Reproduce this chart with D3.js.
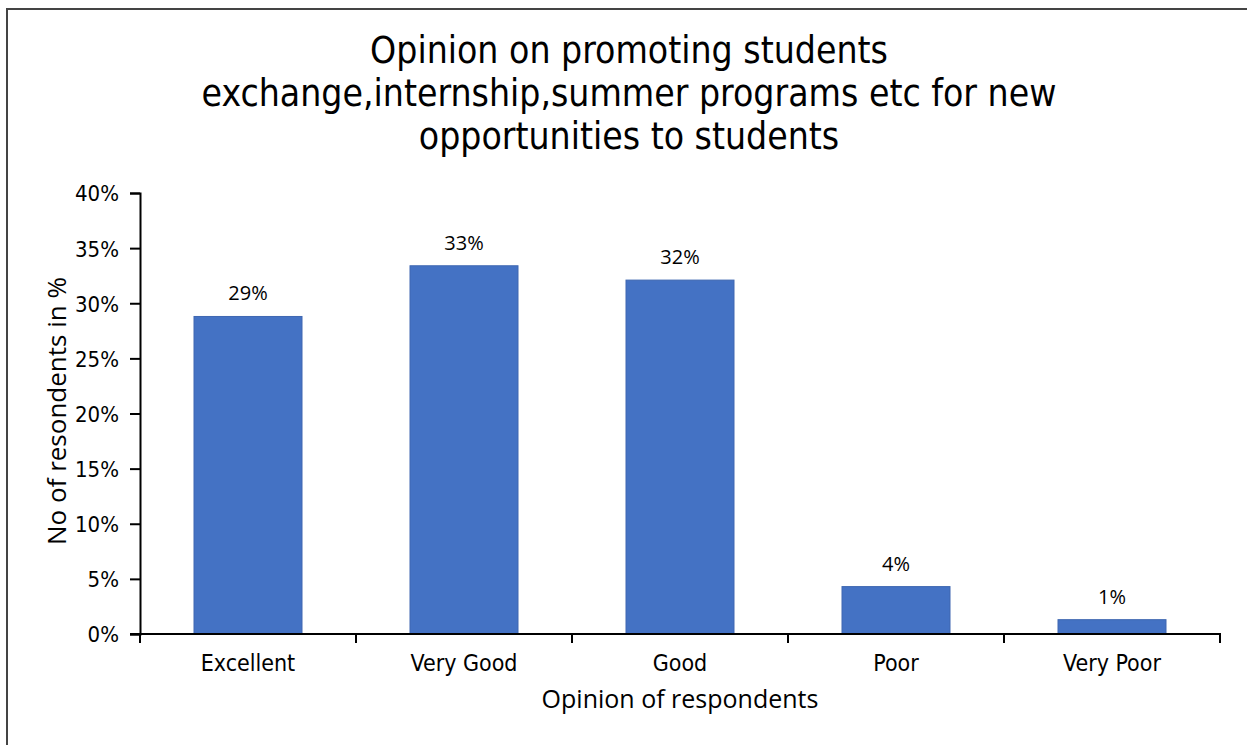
<!DOCTYPE html>
<html>
<head>
<meta charset="utf-8">
<script src="https://cdn.jsdelivr.net/npm/d3@7"></script>
<style>
  html, body { margin: 0; padding: 0; background: #fff; }
  svg { display: block; }
</style>
</head>
<body>
<svg id="chart" width="1247" height="745"></svg>
<script>
// Survey results: opinion on promoting student exchange / internship / summer programs
const categories = ["Excellent", "Very Good", "Good", "Poor", "Very Poor"];
const shares = [28.8, 33.4, 32.1, 4.3, 1.3];           // percent of respondents
const yTicks = [0, 5, 10, 15, 20, 25, 30, 35, 40];       // percent
const titleLines = [
  "Opinion on promoting students",
  "exchange,internship,summer programs etc for new",
  "opportunities to students"
];
const xTitle = "Opinion of respondents";
const yTitle = "No of resondents in %";

const svg = d3.select("#chart");
const W = 1247, H = 745;
const plot = { left: 140, right: 1220, top: 193, bottom: 634 };
const tickFont = "'DejaVu Sans Condensed', 'DejaVu Sans', sans-serif";
const labelFont = "'Open Sans', 'Noto Sans', sans-serif";

// outer frame (left and top edges)
svg.append("path")
  .attr("d", `M7,${H} L7,9 L${W},9`)
  .attr("fill", "none")
  .attr("stroke", "#444")
  .attr("stroke-width", 2);

const x = d3.scaleBand().domain(categories).range([plot.left, plot.right]).paddingInner(0.5).paddingOuter(0.25);
const band = d3.scaleBand().domain(categories).range([plot.left, plot.right]);
const y = d3.scaleLinear().domain([0, 40]).range([plot.bottom, plot.top]);

// title
svg.append("text")
  .attr("text-anchor", "middle")
  .attr("font-family", tickFont)
  .attr("font-size", 37)
  .attr("fill", "#000")
  .selectAll("tspan")
  .data(titleLines)
  .join("tspan")
  .attr("x", 629)
  .attr("y", (d, i) => 63 + i * 43)
  .text(d => d);

// bars
svg.append("g")
  .selectAll("rect")
  .data(categories)
  .join("rect")
  .attr("x", d => x(d))
  .attr("width", x.bandwidth())
  .attr("y", (d, i) => y(shares[i]))
  .attr("height", (d, i) => y(0) - y(shares[i]))
  .attr("fill", "#4472C4")
  .attr("stroke", "#3F67B1")
  .attr("stroke-width", 1);

// value labels
svg.append("g")
  .selectAll("text")
  .data(categories)
  .join("text")
  .attr("x", d => x(d) + x.bandwidth() / 2)
  .attr("y", (d, i) => y(shares[i]) - 16)
  .attr("text-anchor", "middle")
  .attr("font-family", labelFont)
  .attr("font-size", 20)
  .attr("fill", "#000")
  .text((d, i) => Math.round(shares[i]) + "%");

// y axis
const yAxis = d3.axisLeft(y).tickValues(yTicks).tickFormat(d => d + "%").tickSize(10).tickSizeOuter(10);
const gy = svg.append("g").attr("transform", `translate(${plot.left},0)`).call(yAxis);
gy.select(".domain").attr("stroke", "#000").attr("stroke-width", 2);
gy.selectAll(".tick line").attr("stroke", "#000").attr("stroke-width", 2);
gy.selectAll(".tick text")
  .attr("font-family", tickFont)
  .attr("font-size", 22)
  .attr("fill", "#000")
  .attr("x", -21)
  .attr("dy", "0.36em");

// x axis: ticks sit at the category boundaries
const xAxisG = svg.append("g").attr("transform", `translate(0,${plot.bottom})`);
xAxisG.append("line")
  .attr("x1", plot.left - 10).attr("x2", plot.right + 1)
  .attr("stroke", "#000").attr("stroke-width", 2);
const boundaries = categories.map(c => band(c)).concat([plot.right]);
xAxisG.selectAll("line.tick")
  .data(boundaries)
  .join("line")
  .attr("class", "tick")
  .attr("x1", d => d).attr("x2", d => d)
  .attr("y1", 0).attr("y2", 9)
  .attr("stroke", "#000").attr("stroke-width", 2);
xAxisG.selectAll("text")
  .data(categories)
  .join("text")
  .attr("x", d => band(d) + band.bandwidth() / 2)
  .attr("y", 37)
  .attr("text-anchor", "middle")
  .attr("font-family", tickFont)
  .attr("font-size", 23)
  .attr("fill", "#000")
  .text(d => d);

// axis titles
svg.append("text")
  .attr("x", 680)
  .attr("y", 708)
  .attr("text-anchor", "middle")
  .attr("font-family", labelFont)
  .attr("font-size", 25)
  .attr("fill", "#000")
  .text(xTitle);

svg.append("text")
  .attr("transform", `translate(66,411) rotate(-90)`)
  .attr("text-anchor", "middle")
  .attr("font-family", labelFont)
  .attr("font-size", 26)
  .attr("fill", "#000")
  .text(yTitle);
</script>
</body>
</html>
